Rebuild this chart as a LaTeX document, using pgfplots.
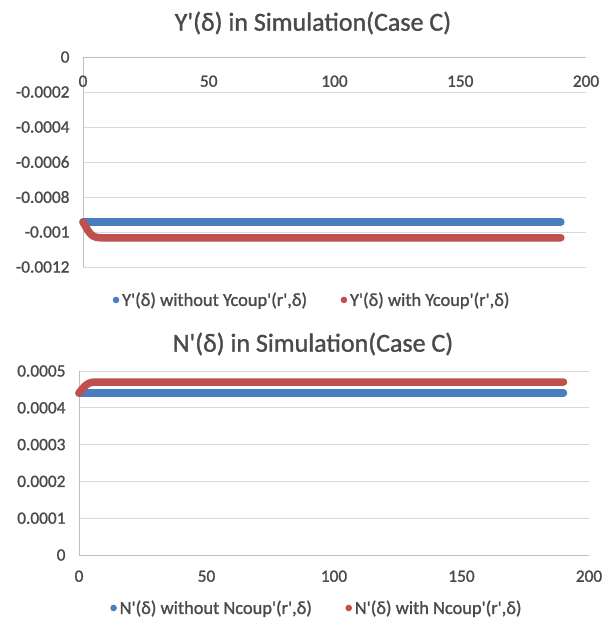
\documentclass[border=0pt]{standalone}
\usepackage{fontspec}
\setmainfont{Carlito}[FakeBold=1.2]
\usepackage{pgfplots}
\pgfplotsset{compat=1.18}

\newcommand{\q}{\textquotesingle}

\definecolor{serblue}{HTML}{4A7CC0}
\definecolor{serred}{HTML}{C0504D}
\definecolor{txtgray}{HTML}{4A4A4A}
\definecolor{gridgray}{HTML}{D9D9D9}
\definecolor{axisgray}{HTML}{BFBFBF}

\pgfplotsset{
  excel/.style={
    scale only axis,
    anchor=south west,
    xmin=0, xmax=200,
    xtick={0,50,100,150,200},
    xticklabels={0,50,100,150,200},
    scaled y ticks=false,
    major tick length=0pt,
    ymajorgrids,
    grid style={gridgray, line width=0.9pt},
    axis line style={axisgray, line width=0.9pt},
    tick label style={font=\fontsize{17.3}{20}\selectfont, text=txtgray},
    legend style={draw=none, fill=none, font=\fontsize{18.4}{21}\selectfont,
      text=txtgray, legend columns=2, inner xsep=0pt,
      nodes={inner xsep=1.5pt},
      /tikz/every even column/.append style={column sep=32pt}},
    legend cell align=left,
    clip=false,
  },
  serA/.style={serblue, line width=7.5pt, line cap=round, line join=round,
    no markers,
    legend image code/.code={\fill[serblue, draw=none] (0pt,0pt) circle (3.3pt);
      \path[draw=none, fill=none] (0pt,0pt) -- (4.6pt,0pt);}},
  serB/.style={serred, line width=7.5pt, line cap=round, line join=round,
    no markers,
    legend image code/.code={\fill[serred, draw=none] (0pt,0pt) circle (3.3pt);
      \path[draw=none, fill=none] (0pt,0pt) -- (4.6pt,0pt);}},
}

\begin{document}
\begin{tikzpicture}
\path[use as bounding box] (0pt,0pt) rectangle (613pt,631pt);

% ---- Y'(delta) ----
\node[text=txtgray, font=\fontsize{26}{30}\selectfont] at (313pt,608pt) {Y\q(δ) in Simulation(Case C)};
\begin{axis}[excel,
  at={(83pt,364pt)}, width=503pt, height=210pt,
  ymin=-0.0012, ymax=0,
  ytick={-0.0012,-0.001,-0.0008,-0.0006,-0.0004,-0.0002,0},
  yticklabels={-0.0012,-0.001,-0.0008,-0.0006,-0.0004,-0.0002,0},
  axis x line*=top, axis y line*=left,
  xticklabel style={anchor=north, yshift=-15pt},
  yticklabel style={xshift=-10pt},
  legend style={at={(0.455,-0.157)}, anchor=center},
]
\addplot[serA] coordinates {(0,-0.000943) (190,-0.000943)};
\addlegendentry{Y\q(δ) without Ycoup\q(r\q,δ)}
\addplot[serB] coordinates {
  (0,-0.000943) (1,-0.000968) (2,-0.000992) (3,-0.001011) (4,-0.001023)
  (5,-0.001029) (6,-0.001032) (7,-0.001033) (190,-0.001033)};
\addlegendentry{Y\q(δ) with Ycoup\q(r\q,δ)}
\end{axis}

% ---- N'(delta) ----
\node[text=txtgray, font=\fontsize{26}{30}\selectfont] at (313pt,287pt) {N\q(δ) in Simulation(Case C)};
\begin{axis}[excel,
  at={(79pt,76pt)}, width=510pt, height=184pt,
  ymin=0, ymax=0.0005,
  ytick={0,0.0001,0.0002,0.0003,0.0004,0.0005},
  yticklabels={0,0.0001,0.0002,0.0003,0.0004,0.0005},
  axis x line*=bottom, axis y line*=left,
  xticklabel style={yshift=-12pt},
  yticklabel style={xshift=-10pt},
  legend style={at={(0.466,-0.288)}, anchor=center},
]
\addplot[serA] coordinates {(0,0.00044) (190,0.00044)};
\addlegendentry{N\q(δ) without Ncoup\q(r\q,δ)}
\addplot[serB] coordinates {
  (0,0.00044) (1,0.000449) (2,0.000457) (3,0.000463) (4,0.000467)
  (5,0.000469) (6,0.00047) (190,0.00047)};
\addlegendentry{N\q(δ) with Ncoup\q(r\q,δ)}
\end{axis}
\end{tikzpicture}
\end{document}
